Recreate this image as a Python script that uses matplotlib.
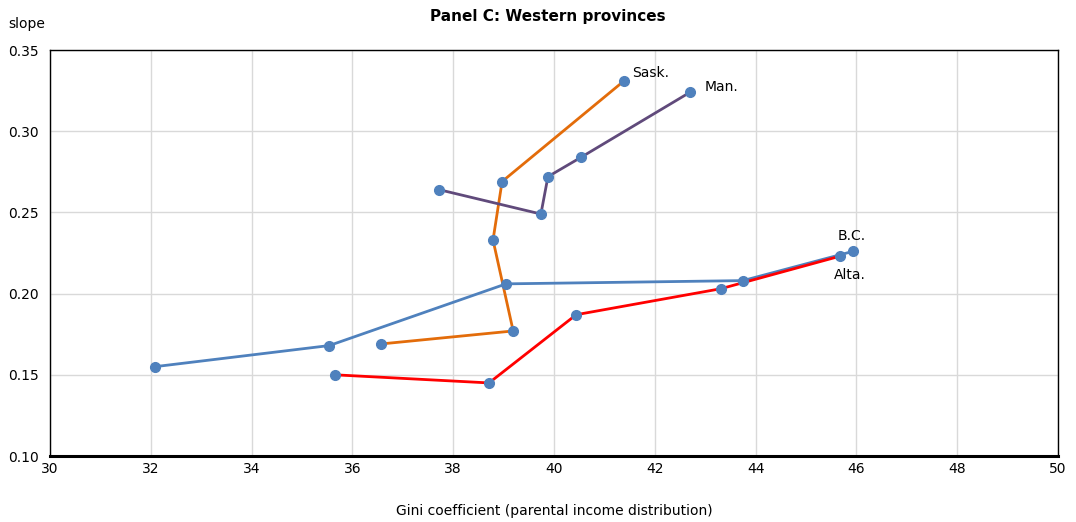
import matplotlib.pyplot as plt

# Gini coefficient (x) and slope (y) per province
sask_x = [36.57, 39.19, 38.79, 38.97, 41.39]
sask_y = [0.169, 0.177, 0.233, 0.269, 0.331]

man_x = [37.72, 39.74, 39.88, 40.54, 42.70]
man_y = [0.264, 0.249, 0.272, 0.284, 0.324]

bc_x = [32.08, 35.54, 39.05, 43.75, 45.93]
bc_y = [0.155, 0.168, 0.206, 0.208, 0.226]

alta_x = [35.65, 38.71, 40.44, 43.31, 45.67]
alta_y = [0.150, 0.145, 0.187, 0.203, 0.223]

x_ticks = [30, 32, 34, 36, 38, 40, 42, 44, 46, 48, 50]
y_ticks = [0.10, 0.15, 0.20, 0.25, 0.30, 0.35]

marker_col = '#4F81BD'
series = [
    (bc_x, bc_y, '#4F81BD'),
    (alta_x, alta_y, '#FF0000'),
    (sask_x, sask_y, '#E36C0A'),
    (man_x, man_y, '#604A7B'),
]

plt.rcParams['font.family'] = ['DejaVu Sans']
fig = plt.figure(figsize=(10.76, 5.22), dpi=100)
ax = fig.add_axes([50/1076, 1 - 456/522, 1008/1076, 406/522])

for xs, ys, c in series:
    ax.plot(xs, ys, '-', color=c, lw=2, zorder=3)
for xs, ys, c in series:
    ax.plot(xs, ys, 'o', color=marker_col, ms=7, zorder=4, lw=0)

ax.set_xlim(30, 50)
ax.set_ylim(0.10, 0.35)
ax.set_xticks(x_ticks)
ax.set_yticks(y_ticks)
ax.set_yticklabels([f'{v:.2f}' for v in y_ticks])
ax.grid(True, color='#D9D9D9', lw=1)
ax.set_axisbelow(True)
ax.tick_params(axis='y', length=0, labelsize=10, pad=8)
ax.tick_params(axis='x', length=0, labelsize=10, pad=4)
for s in ['top', 'left', 'right']:
    ax.spines[s].set_linewidth(1)
    ax.spines[s].set_color('black')
ax.spines['bottom'].set_linewidth(2.2)

ax.text(sask_x[-1] + 0.16, sask_y[-1] + 0.0025, 'Sask.', fontsize=10)
ax.text(man_x[-1] + 0.28, man_y[-1] + 0.0005, 'Man.', fontsize=10)
ax.text(bc_x[-1] - 0.02, bc_y[-1] + 0.007, 'B.C.', fontsize=10, ha='center')
ax.text(alta_x[-1] + 0.20, alta_y[-1] - 0.014, 'Alta.', fontsize=10, ha='center')

fig.text(554/1076, 1 - 511/522, 'Gini coefficient (parental income distribution)',
         fontsize=10, ha='center', va='center')
fig.text(8/1076, 1 - 24/522, 'slope', fontsize=10, va='center')
fig.text(548/1076, 1 - 16/522, 'Panel C: Western provinces', fontsize=11,
         weight='bold', ha='center', va='center')

fig.savefig('out.png', dpi=100)
